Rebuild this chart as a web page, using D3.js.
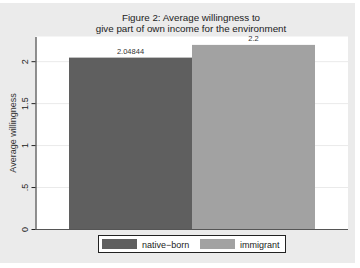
<!DOCTYPE html>
<html><head><meta charset="utf-8">
<script src="https://cdn.jsdelivr.net/npm/d3@7"></script>
<style>body{margin:0;background:#fff}svg{display:block}text{font-family:"Liberation Sans",Arial,sans-serif}</style>
</head><body><svg id="c" width="360" height="268"></svg>
<script>
const categories = ["native\u2212born", "immigrant"];
const values = [2.04844, 2.2];
const valueLabels = ["2.04844", "2.2"];
const yTicks = [0, 0.5, 1, 1.5, 2];
const yTickLabels = ["0", ".5", "1", "1.5", "2"];
const colors = ["#5f5f5f", "#a2a2a2"];

const svg = d3.select("#c");
svg.append("rect").attr("x",0).attr("y",3).attr("width",355).attr("height",260).attr("fill","#ebebeb");

const L=35.5, R=348, T=36.5, B=229.5;
svg.append("rect").attr("x",L).attr("y",T).attr("width",R-L).attr("height",B-T).attr("fill","#fff");

const y = d3.scaleLinear().domain([0,2.3]).range([B,T]);
const x = d3.scaleBand().domain(categories).range([69,315]).paddingInner(0).paddingOuter(0);

// gridlines
svg.append("g").selectAll("line").data(yTicks.filter(d=>d>0)).join("line")
  .attr("x1",L).attr("x2",R).attr("y1",d=>y(d)).attr("y2",d=>y(d))
  .attr("stroke","#eaeaea").attr("stroke-width",1);

// bars
svg.append("g").selectAll("rect").data(values).join("rect")
  .attr("x",(d,i)=>x(categories[i])).attr("width",x.bandwidth())
  .attr("y",d=>y(d)).attr("height",d=>B-y(d)).attr("fill",(d,i)=>colors[i]);

// value labels
svg.append("g").selectAll("text").data(values).join("text")
  .attr("x",(d,i)=>x(categories[i])+x.bandwidth()/2).attr("y",d=>y(d)-4)
  .attr("text-anchor","middle").attr("font-size",7.5).attr("fill","#333")
  .text((d,i)=>valueLabels[i]);

// y axis
const ax = d3.axisLeft(y).tickValues(yTicks).tickFormat((d,i)=>yTickLabels[i]).tickSize(4).tickSizeOuter(0);
const g = svg.append("g").attr("transform",`translate(${L},0)`).call(ax);
g.select(".domain").attr("stroke","#222");
g.selectAll(".tick line").attr("stroke","#222");
g.selectAll(".tick text").attr("font-size",9).attr("fill","#222")
  .attr("transform",d=>`rotate(-90,-7,${y(d)})`).attr("x",-7).attr("y",y=>0).attr("dy",0)
  .attr("text-anchor","middle")
  .each(function(d){ d3.select(this).attr("x",0).attr("y",0).attr("transform",`translate(-8,${y(d)}) rotate(-90)`).attr("dy","0"); });
g.selectAll(".tick").each(function(d){ d3.select(this).attr("transform","translate(0,0)"); d3.select(this).select("line").attr("y1",y(d)).attr("y2",y(d)); });

// x axis line
svg.append("line").attr("x1",L).attr("x2",R).attr("y1",B).attr("y2",B).attr("stroke","#555").attr("stroke-width",1);

// y title
svg.append("text").attr("transform",`translate(16,${(T+B)/2}) rotate(-90)`).attr("text-anchor","middle")
  .attr("font-size",9).attr("fill","#333").text("Average willingness");

// title
svg.append("text").attr("x",191).attr("y",21).attr("text-anchor","middle").attr("font-size",9.8).attr("fill","#222").text("Figure 2: Average willingness to");
svg.append("text").attr("x",191).attr("y",32).attr("text-anchor","middle").attr("font-size",9.8).attr("fill","#222").text("give part of own income for the environment");

// legend
const lg = svg.append("g");
lg.append("rect").attr("x",98.5).attr("y",235.5).attr("width",187).attr("height",17).attr("fill","#fff").attr("stroke","#222").attr("stroke-width",1);
const lx=[102,200], tx=[142,240];
categories.forEach((c,i)=>{
  lg.append("rect").attr("x",lx[i]).attr("y",239).attr("width",35).attr("height",10).attr("fill",colors[i]);
  lg.append("text").attr("x",tx[i]).attr("y",247.5).attr("font-size",9).attr("fill","#222").text(c);
});
</script></body></html>
